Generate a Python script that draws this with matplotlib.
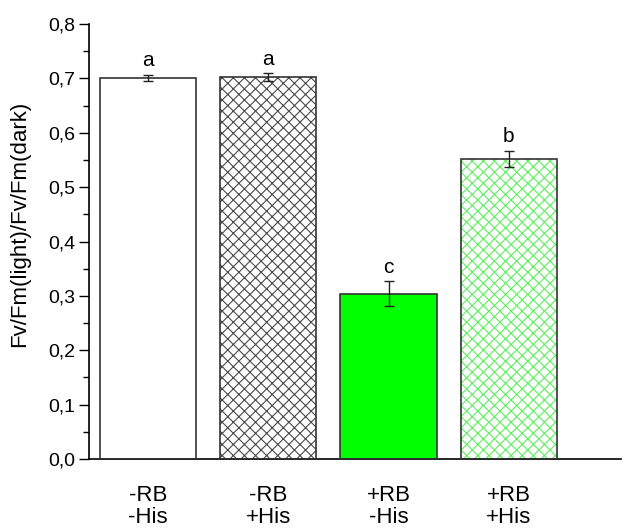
import numpy as np
import matplotlib.pyplot as plt
from matplotlib.ticker import MultipleLocator, FuncFormatter

plt.rcParams['font.family'] = ['Liberation Sans', 'DejaVu Sans']
plt.rcParams['hatch.linewidth'] = 0.8

# data
groups = ['-RB\n-His', '-RB\n+His', '+RB\n-His', '+RB\n+His']
means = [0.701, 0.703, 0.304, 0.552]
errors = [0.006, 0.007, 0.023, 0.015]
letters = ['a', 'a', 'c', 'b']

fig = plt.figure(figsize=(6.27, 5.29), dpi=100)
ax = fig.add_axes([0.142, 0.1323, 0.848, 0.8223])

x = np.arange(len(groups))
face = ['white', 'white', '#00ff00', 'white']
hatch = [None, 'xxx', None, 'xxx']
hatch_col = ['#333333', '#4a4a4a', '#333333', '#5cf05c']

# hatch layer (hatch takes the edge colour), then outline on top
for i in range(len(groups)):
    ax.bar(x[i], means[i], width=0.8, color=face[i], hatch=hatch[i],
           edgecolor=hatch_col[i], linewidth=0, zorder=2)
ax.bar(x, means, width=0.8, fill=False, edgecolor='#333333', linewidth=1.2, zorder=3)

ax.errorbar(x, means, yerr=errors, fmt='none', ecolor='#222222',
            elinewidth=1, capsize=3.5, capthick=1, zorder=4)

for i in range(len(groups)):
    ax.text(x[i], means[i] + errors[i] + 0.008, letters[i], ha='center', va='bottom', fontsize=15)

ax.set_xlim(-0.49, 3.93)
ax.set_ylim(0, 0.8)
ax.set_xticks(x)
ax.set_xticklabels(groups, fontsize=16, linespacing=1.05)
ax.tick_params(axis='x', length=0, pad=19)
ax.yaxis.set_major_locator(MultipleLocator(0.1))
ax.yaxis.set_minor_locator(MultipleLocator(0.05))
ax.yaxis.set_major_formatter(FuncFormatter(lambda v, p: ('%.1f' % v).replace('.', ',')))
ax.tick_params(axis='y', which='major', length=7, width=1, labelsize=14, direction='out', pad=3)
ax.tick_params(axis='y', which='minor', length=4, width=1, direction='out')
ax.set_ylabel('Fv/Fm(light)/Fv/Fm(dark)', fontsize=16)
ax.yaxis.set_label_coords(-0.11, 0.54)

ax.spines['top'].set_visible(False)
ax.spines['right'].set_visible(False)
ax.spines['left'].set_linewidth(1.2)
ax.spines['bottom'].set_linewidth(1.2)

plt.savefig('out.png', dpi=100)
